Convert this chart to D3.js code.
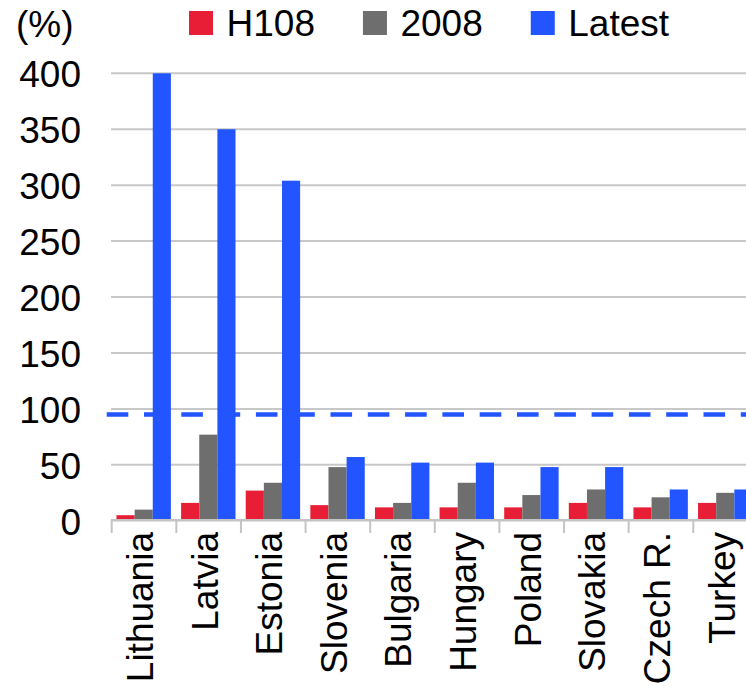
<!DOCTYPE html>
<html>
<head>
<meta charset="utf-8">
<script src="https://cdn.jsdelivr.net/npm/d3@7"></script>
<style>
  html, body { margin: 0; padding: 0; background: #fff; }
  svg { display: block; }
  text { font-family: Arial, "Liberation Sans", sans-serif; fill: #000; }
</style>
</head>
<body>
<svg id="chart" width="746" height="692"></svg>
<script>
// Categories and series
const countries = ["Lithuania", "Latvia", "Estonia", "Slovenia", "Bulgaria",
                   "Hungary", "Poland", "Slovakia", "Czech R.", "Turkey"];
const seriesNames = ["H108", "2008", "Latest"];
const h108   = [5, 16, 27, 14, 12, 12, 12, 16, 12, 16];
const y2008  = [10, 77, 34, 48, 16, 34, 23, 28, 21, 25];
const latest = [400, 350, 304, 57, 52, 52, 48, 48, 28, 28];
const yTicks = [0, 50, 100, 150, 200, 250, 300, 350, 400];
const referenceLevel = 95;
const colors = ["#e81e36", "#6e6e6e", "#2255ff"];

const seriesValues = [h108, y2008, latest];
const rows = countries.map((c, i) => ({
  country: c,
  values: seriesNames.map((s, j) => ({ key: s, value: seriesValues[j][i] }))
}));

const W = 746, H = 692;
const plotLeft = 111.7, plotRight = 757.9;   // last category runs past the frame
const yZero = 520.8, yTop = 73.3;
const fontSize = 37;

const svg = d3.select("#chart");

const x0 = d3.scaleBand().domain(countries).range([plotLeft, plotRight]).padding(0);
const bw = x0.bandwidth();
const x1 = d3.scaleBand().domain(seriesNames).range([bw * 0.074, bw * 0.916]).padding(0);
const y = d3.scaleLinear().domain([0, 400]).range([yZero, yTop]);
const color = d3.scaleOrdinal().domain(seriesNames).range(colors);

const clip = svg.append("defs").append("clipPath").attr("id", "frame")
  .append("rect").attr("x", 0).attr("y", 0).attr("width", W).attr("height", H);

// Horizontal gridlines
svg.append("g")
  .selectAll("line")
  .data(yTicks.filter(d => d > 0))
  .join("line")
  .attr("x1", plotLeft - 0.7).attr("x2", W)
  .attr("y1", d => y(d)).attr("y2", d => y(d))
  .attr("stroke", "#c8c8c8").attr("stroke-width", 2);

// Y axis labels
const yAxis = d3.axisLeft(y).tickValues(yTicks).tickSize(0).tickPadding(0);
const gy = svg.append("g").attr("transform", "translate(81,0)").call(yAxis);
gy.select(".domain").remove();
gy.selectAll("text")
  .attr("font-size", fontSize)
  .attr("font-family", "Arial, 'Liberation Sans', sans-serif")
  .attr("fill", "#000")
  .attr("dy", "0.36em");

// Bars
const groups = svg.append("g").attr("clip-path", "url(#frame)")
  .selectAll("g")
  .data(rows)
  .join("g")
  .attr("transform", d => `translate(${x0(d.country)},0)`);

groups.selectAll("rect")
  .data(d => d.values)
  .join("rect")
  .attr("x", d => x1(d.key))
  .attr("width", x1.bandwidth())
  .attr("y", d => y(d.value))
  .attr("height", d => y(0) - y(d.value))
  .attr("fill", d => color(d.key));

// Dashed reference level
svg.append("line")
  .attr("x1", 106.7).attr("x2", W)
  .attr("y1", y(referenceLevel)).attr("y2", y(referenceLevel))
  .attr("stroke", "#2255ff")
  .attr("stroke-width", 4.5)
  .attr("stroke-dasharray", "21.6,15.7");

// Category axis line
svg.append("line")
  .attr("x1", plotLeft - 0.7).attr("x2", W)
  .attr("y1", yZero - 0.5).attr("y2", yZero - 0.5)
  .attr("stroke", "#c4c4c4").attr("stroke-width", 2.5);

// Category separators
const bounds = countries.map(c => x0(c));
svg.append("g")
  .selectAll("line")
  .data(bounds)
  .join("line")
  .attr("x1", d => d).attr("x2", d => d)
  .attr("y1", yZero - 1).attr("y2", 533)
  .attr("stroke", "#c4c4c4").attr("stroke-width", 2);

// Category labels, rotated
svg.append("g")
  .selectAll("text")
  .data(countries)
  .join("text")
  .attr("transform", d => `translate(${x0(d) + bw / 2 + 9},532) rotate(-90)`)
  .attr("text-anchor", "end")
  .attr("font-size", fontSize)
  .text(d => d);

// Unit label
svg.append("text")
  .attr("x", 16).attr("y", 36.5)
  .attr("font-size", fontSize)
  .text("(%)");

// Legend
const legend = svg.append("g");
let lx = 189;
seriesNames.forEach(name => {
  const g = legend.append("g");
  g.append("rect")
    .attr("x", lx).attr("y", 11)
    .attr("width", 24).attr("height", 24)
    .attr("fill", color(name));
  const t = g.append("text")
    .attr("x", lx + 37.5).attr("y", 36)
    .attr("font-size", fontSize)
    .text(name);
  lx = lx + 37.5 + t.node().getComputedTextLength() + 48;
});
</script>
</body>
</html>
